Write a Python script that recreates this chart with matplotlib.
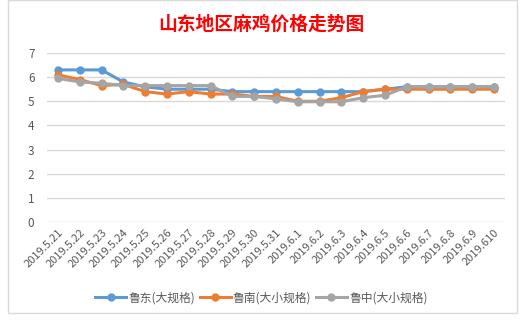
import matplotlib.pyplot as plt
from matplotlib.patches import Rectangle

plt.rcParams['font.family'] = ['Noto Sans CJK SC', 'DejaVu Sans']

# 日期标签
dates = ['2019.5.21', '2019.5.22', '2019.5.23', '2019.5.24', '2019.5.25', '2019.5.26',
         '2019.5.27', '2019.5.28', '2019.5.29', '2019.5.30', '2019.5.31', '2019.6.1',
         '2019.6.2', '2019.6.3', '2019.6.4', '2019.6.5', '2019.6.6', '2019.6.7',
         '2019.6.8', '2019.6.9', '2019.610']

# 三个产区价格
ludong = [6.3, 6.3, 6.3, 5.8, 5.6, 5.5, 5.5, 5.5, 5.4, 5.4, 5.4,
          5.4, 5.4, 5.4, 5.4, 5.5, 5.6, 5.6, 5.6, 5.6, 5.6]
lunan = [6.1, 5.9, 5.65, 5.7, 5.4, 5.3, 5.4, 5.3, 5.3, 5.2, 5.2,
         5.0, 5.0, 5.15, 5.4, 5.5, 5.5, 5.5, 5.5, 5.5, 5.5]
luzhong = [5.95, 5.8, 5.75, 5.65, 5.65, 5.65, 5.65, 5.65, 5.2, 5.2, 5.1,
           4.98, 4.98, 4.98, 5.15, 5.25, 5.6, 5.6, 5.6, 5.6, 5.6]

names = ['鲁东(大规格)', '鲁南(大小规格)', '鲁中(大小规格)']
colors = ['#5B9BD5', '#ED7D31', '#A5A5A5']

fig = plt.figure(figsize=(5.23, 3.21), dpi=100)
# 图表区边框
fig.patches.append(Rectangle((8 / 523, 0.025), 509 / 523, 0.975, transform=fig.transFigure,
                             fill=False, edgecolor='#d9d9d9', lw=1))

ax = fig.add_axes([47 / 523, (321 - 222) / 321, 458 / 523, 169 / 321])

x = list(range(len(dates)))
for ys, name, c in zip([ludong, lunan, luzhong], names, colors):
    ax.plot(x, ys, color=c, lw=2.2, marker='o', markersize=5, label=name)

ax.set_xlim(-0.5, len(dates) - 0.5)
ax.set_ylim(0, 7)
ax.set_yticks(range(0, 8))
ax.grid(axis='y', color='#d9d9d9', lw=1)
ax.set_axisbelow(True)
for s in ax.spines.values():
    s.set_visible(False)
ax.tick_params(length=0, colors='#595959', labelsize=8.5)
ax.tick_params(axis='y', pad=9)
ax.tick_params(axis='x', pad=4)
ax.set_xticks(x)
ax.set_xticklabels(dates, rotation=45, ha='right', rotation_mode='anchor', fontsize=8)

fig.text(0.5, 0.925, '山东地区麻鸡价格走势图', color='red', fontsize=13.5,
         fontweight='bold', ha='center', va='center')

fig.legend(loc='center', bbox_to_anchor=(0.5, 0.072), ncol=3, frameon=False,
           fontsize=8.5, handlelength=2.6, columnspacing=0.4, handletextpad=0.2,
           labelcolor='#595959')

fig.savefig('out.png', dpi=100)
